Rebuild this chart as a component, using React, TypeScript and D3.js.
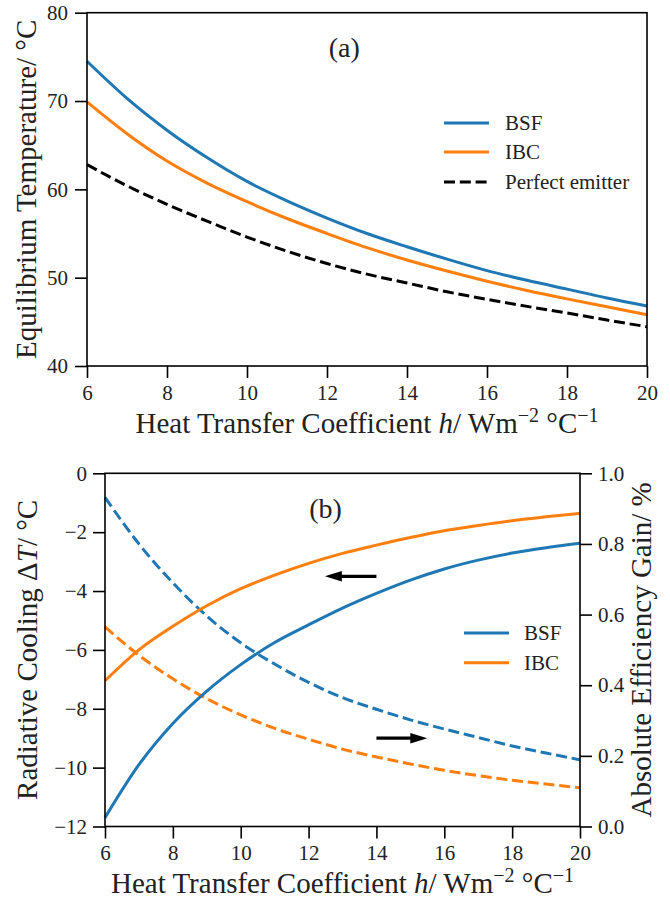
import React, { useRef, useEffect } from "react";
import * as d3 from "d3";

const hValues = [6, 7, 8, 9, 10, 11, 12, 13, 14, 15, 16, 17, 18, 19, 20];

// panel (a): equilibrium temperature in °C
const tempBSF = [74.5, 70.3, 66.7, 63.6, 60.9, 58.7, 56.75, 55.0, 53.5, 52.1, 50.8, 49.7, 48.7, 47.7, 46.8];
const tempIBC = [69.9, 66.3, 63.2, 60.7, 58.6, 56.7, 55.0, 53.4, 52.0, 50.75, 49.6, 48.55, 47.6, 46.7, 45.8];
const tempPerfect = [62.8, 60.4, 58.3, 56.4, 54.6, 53.0, 51.6, 50.4, 49.4, 48.4, 47.55, 46.75, 46.0, 45.2, 44.45];

// panel (b): cooling (left axis, solid) and efficiency gain (right axis, dashed)
const coolBSF = [-11.7, -9.9, -8.5, -7.4, -6.5, -5.75, -5.15, -4.58, -4.08, -3.63, -3.25, -2.95, -2.71, -2.53, -2.38];
const coolIBC = [-7.05, -6.0, -5.2, -4.5, -3.92, -3.46, -3.06, -2.72, -2.44, -2.18, -1.95, -1.77, -1.61, -1.48, -1.36];
const gainBSF = [0.932, 0.8, 0.69, 0.596, 0.52, 0.46, 0.408, 0.365, 0.332, 0.302, 0.276, 0.252, 0.228, 0.208, 0.189];
const gainIBC = [0.565, 0.485, 0.418, 0.362, 0.316, 0.278, 0.247, 0.219, 0.197, 0.177, 0.159, 0.144, 0.131, 0.12, 0.11];

const xTicks = [6, 8, 10, 12, 14, 16, 18, 20];
const tempTicks = [40, 50, 60, 70, 80];
const coolTicks = [0, -2, -4, -6, -8, -10, -12];
const gainTicks = [0, 0.2, 0.4, 0.6, 0.8, 1.0];

const BLUE = "#1f77b4";
const ORANGE = "#ff7f0e";
const FONT = "Liberation Serif, DejaVu Serif, serif";
const DASH = "11 4.8";

const fmtMinus = (v) => (v < 0 ? "\u2212" + Math.abs(v) : String(v));

const App = () => {
  const svgRef = useRef();

  useEffect(() => {
    const svg = d3.select(svgRef.current);
    svg.selectAll("*").remove();

    const styleAxis = (g) => {
      g.attr("font-family", null).attr("font-size", null);
      g.select(".domain").remove();
      g.selectAll(".tick line").attr("stroke", "#000").attr("stroke-width", 1.6);
      g.selectAll(".tick text").attr("fill", "#222").style("font-size", "21px");
    };

    // ---------- panel (a) ----------
    const a = { left: 87, right: 647, top: 12.7, bottom: 366 };
    const xA = d3.scaleLinear().domain([6, 20]).range([a.left, a.right]);
    const yA = d3.scaleLinear().domain([40, 80]).range([a.bottom, a.top]);

    const lineA = (vals) =>
      d3
        .line()
        .x((_, i) => xA(hValues[i]))
        .y((d) => yA(d))
        .curve(d3.curveMonotoneX)(vals);

    const gA = svg.append("g");
    gA.append("path").attr("d", lineA(tempBSF)).attr("fill", "none").attr("stroke", BLUE).attr("stroke-width", 3);
    gA.append("path").attr("d", lineA(tempIBC)).attr("fill", "none").attr("stroke", ORANGE).attr("stroke-width", 3);
    gA.append("path")
      .attr("d", lineA(tempPerfect))
      .attr("fill", "none")
      .attr("stroke", "#000")
      .attr("stroke-width", 3)
      .attr("stroke-dasharray", DASH);

    gA.append("g")
      .attr("transform", `translate(0,${a.bottom})`)
      .call(d3.axisBottom(xA).tickValues(xTicks).tickSize(12).tickSizeOuter(0).tickPadding(7))
      .call(styleAxis);
    gA.append("g")
      .attr("transform", `translate(${a.left},0)`)
      .call(d3.axisLeft(yA).tickValues(tempTicks).tickSize(12).tickSizeOuter(0).tickPadding(7))
      .call(styleAxis);

    gA.append("rect")
      .attr("x", a.left)
      .attr("y", a.top)
      .attr("width", a.right - a.left)
      .attr("height", a.bottom - a.top)
      .attr("fill", "none")
      .attr("stroke", "#000")
      .attr("stroke-width", 1.6);

    gA.append("text")
      .attr("x", xA(12.43))
      .attr("y", 57)
      .attr("text-anchor", "middle")
      .style("font-size", "28px")
      .attr("fill", "#222")
      .text("(a)");

    const legA = [
      { label: "BSF", color: BLUE, dash: null, y: 123 },
      { label: "IBC", color: ORANGE, dash: null, y: 152 },
      { label: "Perfect emitter", color: "#000", dash: DASH, y: 182 },
    ];
    legA.forEach((d) => {
      gA.append("line")
        .attr("x1", 444)
        .attr("x2", 489)
        .attr("y1", d.y)
        .attr("y2", d.y)
        .attr("stroke", d.color)
        .attr("stroke-width", 3)
        .attr("stroke-dasharray", d.dash);
      gA.append("text")
        .attr("x", 505)
        .attr("y", d.y + 7)
        .style("font-size", "21px")
        .attr("fill", "#222")
        .text(d.label);
    });

    // x label, same text under both panels
    const fillXLabel = (t) => {
      t.append("tspan").text("Heat Transfer Coefficient ");
      t.append("tspan").style("font-style", "italic").text("h");
      t.append("tspan").text("/ Wm");
      t.append("tspan").attr("dy", -11).style("font-size", "20px").text("\u22122");
      t.append("tspan").attr("dy", 11).text(" \u00B0C");
      t.append("tspan").attr("dy", -11).style("font-size", "20px").text("\u22121");
    };
    gA.append("text")
      .attr("x", (a.left + a.right) / 2)
      .attr("y", 433)
      .attr("text-anchor", "middle")
      .style("font-size", "29px")
      .attr("fill", "#222")
      .call(fillXLabel);

    gA.append("text")
      .attr("transform", `translate(36,${(a.top + a.bottom) / 2}) rotate(-90)`)
      .attr("text-anchor", "middle")
      .style("font-size", "29px")
      .attr("fill", "#222")
      .text("Equilibrium Temperature/ \u00B0C");

    // ---------- panel (b) ----------
    const b = { left: 105, right: 580, top: 473.3, bottom: 826.5 };
    const xB = d3.scaleLinear().domain([6, 20]).range([b.left, b.right]);
    const yB = d3.scaleLinear().domain([-12, 0]).range([b.bottom, b.top]);
    const yG = d3.scaleLinear().domain([0, 1]).range([b.bottom, b.top]);

    const lineB = (vals, ys) =>
      d3
        .line()
        .x((_, i) => xB(hValues[i]))
        .y((d) => ys(d))
        .curve(d3.curveMonotoneX)(vals);

    const gB = svg.append("g");
    gB.append("path").attr("d", lineB(gainBSF, yG)).attr("fill", "none").attr("stroke", BLUE).attr("stroke-width", 3).attr("stroke-dasharray", DASH);
    gB.append("path").attr("d", lineB(gainIBC, yG)).attr("fill", "none").attr("stroke", ORANGE).attr("stroke-width", 3).attr("stroke-dasharray", DASH);
    gB.append("path").attr("d", lineB(coolBSF, yB)).attr("fill", "none").attr("stroke", BLUE).attr("stroke-width", 3);
    gB.append("path").attr("d", lineB(coolIBC, yB)).attr("fill", "none").attr("stroke", ORANGE).attr("stroke-width", 3);

    gB.append("g")
      .attr("transform", `translate(0,${b.bottom})`)
      .call(d3.axisBottom(xB).tickValues(xTicks).tickSize(12).tickSizeOuter(0).tickPadding(7))
      .call(styleAxis);
    gB.append("g")
      .attr("transform", `translate(${b.left},0)`)
      .call(d3.axisLeft(yB).tickValues(coolTicks).tickFormat(fmtMinus).tickSize(12).tickSizeOuter(0).tickPadding(6))
      .call(styleAxis);
    gB.append("g")
      .attr("transform", `translate(${b.right},0)`)
      .call(d3.axisRight(yG).tickValues(gainTicks).tickFormat(d3.format(".1f")).tickSize(12).tickSizeOuter(0).tickPadding(6))
      .call(styleAxis);

    gB.append("rect")
      .attr("x", b.left)
      .attr("y", b.top)
      .attr("width", b.right - b.left)
      .attr("height", b.bottom - b.top)
      .attr("fill", "none")
      .attr("stroke", "#000")
      .attr("stroke-width", 1.6);

    gB.append("text")
      .attr("x", xB(12.5))
      .attr("y", 518)
      .attr("text-anchor", "middle")
      .style("font-size", "28px")
      .attr("fill", "#222")
      .text("(b)");

    // arrows pointing at the axis each curve family belongs to
    const arrows = [
      { from: [14, -3.5], to: [12.48, -3.5], ys: yB },
      { from: [14, 0.25], to: [15.5, 0.25], ys: yG },
    ];
    arrows.forEach((ar) => {
      const x0 = xB(ar.from[0]);
      const x1 = xB(ar.to[0]);
      const y = ar.ys(ar.from[1]);
      const dir = Math.sign(x1 - x0);
      const head = 17;
      gB.append("line")
        .attr("x1", x0)
        .attr("x2", x1 - dir * head * 0.6)
        .attr("y1", y)
        .attr("y2", y)
        .attr("stroke", "#000")
        .attr("stroke-width", 3.2);
      gB.append("path")
        .attr("d", `M${x1},${y} L${x1 - dir * head},${y - 5.3} L${x1 - dir * head},${y + 5.3} Z`)
        .attr("fill", "#000");
    });

    const legB = [
      { label: "BSF", color: BLUE, y: 633 },
      { label: "IBC", color: ORANGE, y: 662.7 },
    ];
    legB.forEach((d) => {
      gB.append("line")
        .attr("x1", 464)
        .attr("x2", 509)
        .attr("y1", d.y)
        .attr("y2", d.y)
        .attr("stroke", d.color)
        .attr("stroke-width", 3);
      gB.append("text")
        .attr("x", 524)
        .attr("y", d.y + 7)
        .style("font-size", "21px")
        .attr("fill", "#222")
        .text(d.label);
    });

    gB.append("text")
      .attr("x", (b.left + b.right) / 2)
      .attr("y", 893)
      .attr("text-anchor", "middle")
      .style("font-size", "29px")
      .attr("fill", "#222")
      .call(fillXLabel);

    const ylabB = gB.append("text")
      .attr("transform", `translate(37,${(b.top + b.bottom) / 2}) rotate(-90)`)
      .attr("text-anchor", "middle")
      .style("font-size", "29px")
      .attr("fill", "#222");
    ylabB.append("tspan").text("Radiative Cooling \u0394");
    ylabB.append("tspan").style("font-style", "italic").text("T");
    ylabB.append("tspan").text("/ \u00B0C");

    gB.append("text")
      .attr("transform", `translate(651,${(b.top + b.bottom) / 2}) rotate(-90)`)
      .attr("text-anchor", "middle")
      .style("font-size", "29px")
      .attr("fill", "#222")
      .text("Absolute Efficiency Gain/ %");
  }, []);

  return (
    <svg
      ref={svgRef}
      width={670}
      height={899}
      fontFamily={FONT}
      style={{ position: "absolute", left: 0, top: 0, background: "#fff", fontFamily: FONT }}
    ></svg>
  );
};

export default App;
